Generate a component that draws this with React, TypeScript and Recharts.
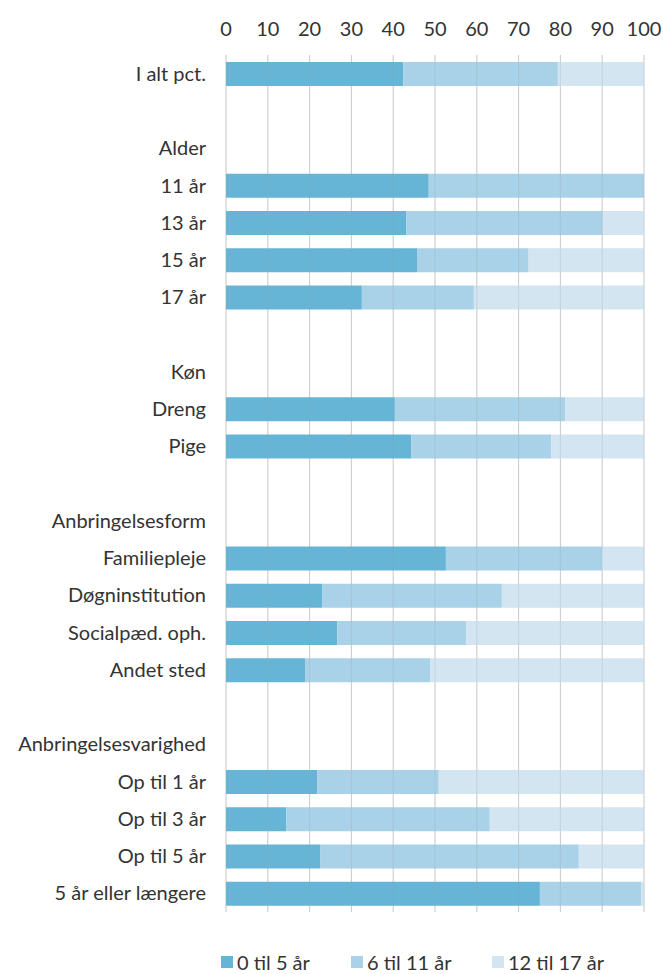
import React from "react";
import {
  BarChart,
  Bar,
  XAxis,
  YAxis,
  CartesianGrid,
  ReferenceLine,
} from "recharts";

const categories = [
  "I alt pct.",
  " ",
  "Alder",
  "11 år",
  "13 år",
  "15 år",
  "17 år",
  "  ",
  "Køn",
  "Dreng",
  "Pige",
  "   ",
  "Anbringelsesform",
  "Familiepleje",
  "Døgninstitution",
  "Socialpæd. oph.",
  "Andet sted",
  "    ",
  "Anbringelsesvarighed",
  "Op til 1 år",
  "Op til 3 år",
  "Op til 5 år",
  "5 år eller længere",
];

// 0 til 5 år
const youngest = [
  42.4, null, null, 48.5, 43.1, 45.7, 32.5, null, null, 40.4, 44.3, null, null,
  52.6, 23.0, 26.6, 18.9, null, null, 21.8, 14.4, 22.5, 75.1,
];
// 6 til 11 år
const middle = [
  37.0, null, null, 51.5, 47.0, 26.7, 26.8, null, null, 40.7, 33.5, null, null,
  37.4, 43.0, 30.8, 29.9, null, null, 29.1, 48.7, 61.9, 24.2,
];
// 12 til 17 år
const oldest = [
  20.6, null, null, 0, 9.9, 27.6, 40.7, null, null, 18.9, 22.2, null, null,
  10.0, 34.0, 42.6, 51.2, null, null, 49.1, 36.9, 15.6, 0.7,
];

const xTicks = [0, 10, 20, 30, 40, 50, 60, 70, 80, 90, 100];

const series = [
  { key: "a", name: "0 til 5 år", color: "#66b5d7" },
  { key: "b", name: "6 til 11 år", color: "#a9d1e7" },
  { key: "c", name: "12 til 17 år", color: "#d2e5f0" },
];

const data = categories.map((label, i) => ({
  label,
  a: youngest[i],
  b: middle[i],
  c: oldest[i],
}));

const FONT = "Lato, 'Open Sans', sans-serif";
const TEXT = "#333333";

export default function App() {
  return (
    <div
      style={{
        position: "absolute",
        left: 0,
        top: 0,
        width: 663,
        height: 974,
        fontFamily: FONT,
      }}
    >
      <BarChart
        width={663}
        height={974}
        layout="vertical"
        data={data}
        margin={{ top: 0, right: 19, bottom: 62, left: 0 }}
        barSize={24}
      >
        <CartesianGrid horizontal={false} stroke="#d9d9d9" />
        <XAxis
          type="number"
          orientation="top"
          domain={[0, 100]}
          ticks={xTicks}
          height={55}
          axisLine={false}
          tickLine={false}
          tickSize={0}
          tickMargin={19}
          interval={0}
          tick={{ fontSize: 20, fill: TEXT, fontFamily: FONT }}
        />
        <YAxis
          type="category"
          dataKey="label"
          width={226}
          axisLine={false}
          tickLine={false}
          tickSize={0}
          tickMargin={20}
          interval={0}
          tick={{ fontSize: 20, fill: TEXT, fontFamily: FONT }}
        />
        {series.map((s) => (
          <Bar
            key={s.key}
            dataKey={s.key}
            name={s.name}
            stackId="s"
            fill={s.color}
            isAnimationActive={false}
          />
        ))}
        {xTicks.map((t) => (
          <ReferenceLine
            key={t}
            x={t}
            stroke="#9aa3a8"
            strokeOpacity={0.25}
          />
        ))}
      </BarChart>
      <div
        style={{
          position: "absolute",
          top: 950,
          left: 0,
          width: 663,
          height: 26,
          fontSize: 20,
          color: TEXT,
        }}
      >
        {series.map((s, i) => (
          <div
            key={s.key}
            style={{
              position: "absolute",
              left: [221, 351, 492][i],
              top: 0,
              display: "flex",
              alignItems: "center",
              whiteSpace: "nowrap",
            }}
          >
            <span
              style={{
                display: "inline-block",
                width: 12,
                height: 12,
                background: s.color,
                marginRight: 4,
              }}
            />
            {s.name}
          </div>
        ))}
      </div>
    </div>
  );
}
